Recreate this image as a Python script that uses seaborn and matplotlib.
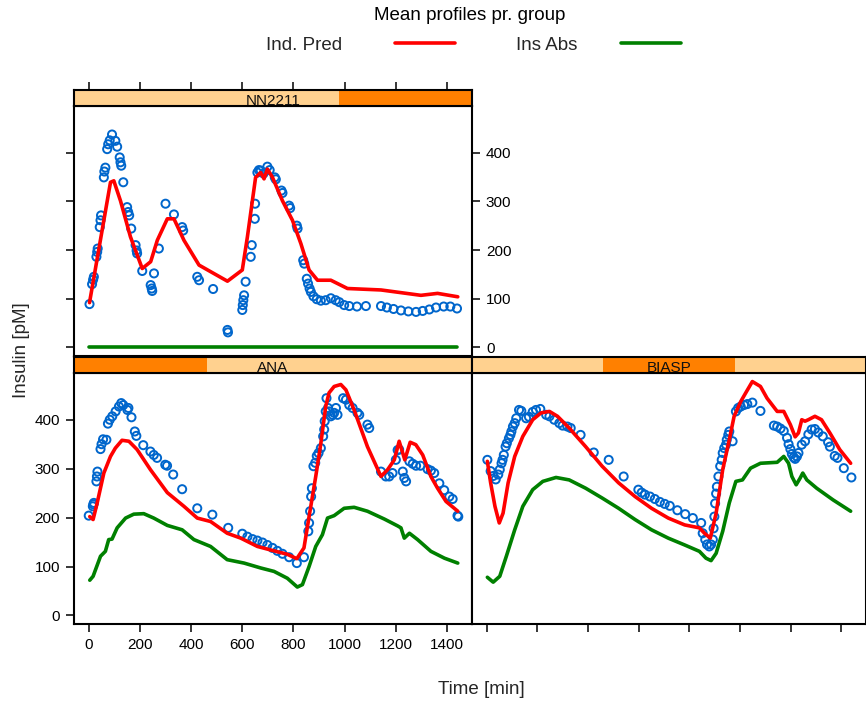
import matplotlib.pyplot as plt
from matplotlib.lines import Line2D
from matplotlib.patches import Rectangle
import seaborn as sns
import pandas as pd

sns.set_theme(style="white")
plt.rcParams['font.family'] = ['Liberation Sans', 'DejaVu Sans']

# ---- data ----
# NN2211
nn_obs_t = [3, 13, 17, 20, 30, 33, 35, 43, 46, 48, 59, 61, 65, 72, 76, 82, 91, 104, 111,
            121, 124, 127, 135, 150, 154, 158, 166, 183, 187, 189, 209, 255, 242, 246, 248,
            274, 300, 333, 365, 369, 424, 431, 486, 542, 544, 600, 602, 604, 607, 613, 633,
            637, 649, 650, 659, 665, 672, 683, 698, 707, 727, 731, 753, 757, 783, 787, 813,
            816, 838, 842, 852, 857, 863, 868, 878, 891, 907, 926, 946, 965, 979, 998, 1018,
            1048, 1083, 1142, 1165, 1191, 1220, 1249, 1279, 1305, 1331, 1357, 1387, 1413, 1439]
nn_obs_y = [89, 130, 139, 145, 186, 196, 203, 247, 261, 271, 349, 361, 369, 407, 417, 425, 437,
            424, 412, 390, 380, 373, 339, 288, 278, 271, 244, 210, 199, 193, 157, 152, 128, 121,
            116, 203, 295, 273, 247, 240, 145, 138, 120, 36, 31, 77, 87, 97, 107, 135, 186, 210,
            264, 295, 359, 364, 363, 357, 371, 364, 349, 345, 322, 317, 291, 286, 250, 244, 179,
            172, 141, 131, 121, 114, 105, 99, 96, 97, 101, 97, 93, 87, 85, 84, 85, 85, 82, 79,
            76, 74, 73, 75, 78, 82, 84, 84, 80]
nn_pred_t = [3, 85, 98, 124, 163, 209, 242, 268, 307, 333, 372, 431, 542, 600, 620, 652, 672,
             685, 698, 718, 757, 796, 829, 861, 894, 946, 1011, 1142, 1298, 1363, 1442]
nn_pred_y = [92, 339, 342, 301, 227, 162, 176, 220, 264, 264, 220, 169, 136, 159, 227, 349, 359,
             346, 366, 349, 301, 261, 213, 159, 138, 138, 121, 118, 107, 111, 104]
nn_abs_t = [0, 360, 720, 1080, 1440]
nn_abs_y = [1, 1, 1, 1, 1]

# ANA
ana_obs_t = [0, 16, 18, 20, 30, 32, 34, 46, 50, 56, 69, 75, 82, 92, 105, 118, 127, 135, 151,
             155, 167, 180, 186, 213, 241, 254, 267, 299, 306, 330, 365, 424, 483, 545, 600,
             620, 640, 659, 679, 698, 718, 737, 757, 783, 813, 841, 858, 861, 865, 869, 872,
             878, 885, 891, 898, 907, 916, 920, 922, 926, 929, 935, 939, 946, 953, 959, 966,
             972, 994, 1005, 1018, 1031, 1050, 1057, 1089, 1096, 1142, 1161, 1174, 1187, 1200,
             1207, 1213, 1227, 1233, 1240, 1253, 1266, 1279, 1296, 1324, 1337, 1350, 1370,
             1389, 1409, 1422, 1441, 1444]
ana_obs_y = [204, 223, 227, 230, 274, 284, 294, 340, 350, 360, 359, 392, 400, 407, 417, 427,
             434, 430, 420, 424, 405, 376, 367, 348, 335, 328, 322, 308, 306, 288, 258, 219,
             206, 179, 167, 161, 156, 153, 149, 144, 138, 132, 126, 119, 107, 119, 172, 189,
             213, 243, 260, 305, 312, 326, 332, 342, 366, 380, 397, 417, 444, 424, 417, 407,
             410, 414, 424, 410, 444, 441, 430, 424, 414, 410, 390, 383, 294, 284, 284, 291,
             318, 338, 339, 294, 281, 274, 315, 310, 306, 306, 299, 296, 291, 270, 256, 243,
             238, 204, 202]
ana_pred_t = [4, 17, 33, 59, 85, 104, 130, 157, 189, 241, 307, 372, 424, 476, 541, 594, 659,
              724, 776, 813, 841, 861, 887, 907, 926, 939, 959, 985, 1005, 1037, 1089, 1142,
              1168, 1194, 1213, 1235, 1256, 1278, 1305, 1337, 1363, 1396, 1442]
ana_pred_y = [202, 196, 230, 291, 325, 342, 358, 356, 339, 298, 251, 223, 199, 192, 168, 158,
              141, 132, 125, 116, 138, 202, 284, 352, 427, 455, 468, 472, 461, 420, 345, 284,
              298, 318, 356, 318, 354, 349, 328, 284, 260, 233, 213]
ana_abs_t = [4, 17, 46, 65, 78, 91, 111, 144, 176, 215, 254, 307, 365, 411, 476, 541, 607, 672,
             724, 776, 815, 835, 861, 887, 913, 933, 959, 998, 1037, 1089, 1155, 1207, 1220,
             1233, 1253, 1285, 1337, 1390, 1442]
ana_abs_y = [72, 80, 121, 131, 155, 156, 179, 199, 207, 208, 199, 184, 175, 155, 141, 114, 107,
             97, 90, 76, 58, 63, 100, 141, 165, 199, 204, 219, 221, 213, 197, 183, 179, 158,
             168, 155, 131, 117, 107]

# BIASP
bi_obs_t = [3, 16, 26, 36, 46, 52, 59, 63, 68, 75, 80, 88, 94, 98, 104, 111, 117, 128, 137,
            156, 167, 182, 195, 212, 235, 248, 267, 287, 300, 319, 332, 371, 423, 482, 541,
            599, 612, 625, 645, 664, 684, 703, 723, 753, 784, 814, 847, 853, 863, 870, 879,
            886, 893, 896, 899, 902, 906, 909, 915, 922, 928, 932, 938, 945, 948, 954, 958,
            971, 984, 993, 1003, 1016, 1029, 1049, 1081, 1134, 1147, 1160, 1173, 1186, 1192,
            1199, 1205, 1212, 1218, 1225, 1231, 1244, 1257, 1270, 1283, 1296, 1309, 1327,
            1348, 1355, 1374, 1385, 1410, 1440]
bi_obs_y = [318, 295, 285, 278, 288, 298, 311, 318, 328, 345, 352, 362, 369, 376, 386, 393,
            403, 420, 418, 403, 406, 416, 420, 422, 410, 407, 400, 393, 388, 386, 383, 369,
            333, 318, 284, 257, 251, 247, 243, 238, 232, 228, 224, 215, 207, 199, 189, 168,
            155, 145, 141, 145, 155, 178, 202, 229, 249, 263, 284, 305, 318, 332, 342, 349,
            359, 369, 376, 356, 417, 424, 427, 430, 432, 435, 418, 388, 386, 382, 377, 363,
            350, 340, 330, 323, 320, 325, 332, 349, 356, 370, 380, 381, 374, 366, 354, 345,
            326, 322, 301, 282]
bi_pred_t = [3, 16, 33, 50, 65, 85, 111, 143, 182, 215, 248, 280, 326, 391, 456, 521, 586,
             651, 717, 782, 840, 860, 883, 906, 932, 958, 977, 1003, 1023, 1049, 1081, 1107,
             1147, 1173, 1199, 1218, 1231, 1244, 1257, 1270, 1296, 1322, 1355, 1394, 1437]
bi_pred_y = [315, 271, 223, 189, 209, 271, 325, 366, 400, 414, 417, 407, 383, 345, 305, 271,
             243, 219, 199, 185, 179, 168, 158, 209, 298, 359, 407, 437, 455, 478, 468, 444,
             417, 417, 390, 365, 373, 400, 397, 400, 407, 400, 373, 339, 311]
bi_abs_t = [3, 26, 52, 78, 111, 143, 182, 222, 274, 326, 391, 456, 521, 586, 651, 717, 782,
            840, 866, 886, 906, 932, 958, 984, 1010, 1042, 1081, 1147, 1173, 1192, 1205, 1222,
            1238, 1248, 1264, 1303, 1368, 1437]
bi_abs_y = [78, 68, 80, 121, 175, 223, 257, 274, 282, 277, 260, 240, 219, 196, 175, 158, 144,
            131, 117, 112, 127, 172, 230, 274, 277, 301, 311, 313, 325, 311, 284, 267, 281,
            291, 277, 260, 236, 213]

groups = ['NN2211', 'ANA', 'BIASP']
level_pos = {'NN2211': 2, 'ANA': 0, 'BIASP': 1}
x_ticks = [0, 200, 400, 600, 800, 1000, 1200, 1400]
y_ticks = [0, 100, 200, 300, 400]

BLUE = '#0066CC'
RED = '#FF0000'
GREEN = '#008000'
STRIP_BG = '#FFD18F'
STRIP_FG = '#FF8000'
XLIM = (-57.6, 1497.6)
YLIM = (-17.5, 495.5)

W, H = 866, 701


def rect(x0, y0, x1, y1):
    return [x0 / W, 1 - y1 / H, (x1 - x0) / W, (y1 - y0) / H]


def draw_panel(fig, box, strip_box, name, obs, pred, ins):
    ax = fig.add_axes(rect(*box))
    obs_df = pd.DataFrame({'time': obs[0], 'insulin': obs[1]})
    sns.scatterplot(data=obs_df, x='time', y='insulin', ax=ax, marker='o', s=34,
                    linewidth=1.4, zorder=2)
    pts = ax.collections[-1]
    pts.set_facecolor('none')
    pts.set_edgecolor(BLUE)
    sns.lineplot(x=pred[0], y=pred[1], ax=ax, color=RED, lw=2.6, estimator=None, zorder=3)
    sns.lineplot(x=ins[0], y=ins[1], ax=ax, color=GREEN, lw=2.6, estimator=None, zorder=3)
    ax.set_xlim(XLIM)
    ax.set_ylim(YLIM)
    ax.set_xlabel('')
    ax.set_ylabel('')
    ax.set_xticks(x_ticks)
    ax.set_yticks(y_ticks)
    for sp in ax.spines.values():
        sp.set_visible(True)
        sp.set_color('black')
        sp.set_linewidth(1.5)
    ax.tick_params(direction='out', length=6, width=1.1, color='black',
                   labelsize=11, labelcolor='black', pad=4)

    # strip on top of the panel
    st = fig.add_axes(rect(*strip_box))
    st.set_xlim(XLIM)
    st.set_ylim(0, 1)
    st.set_facecolor(STRIP_BG)
    k = level_pos[name]
    st.add_patch(Rectangle((k / 3, 0), 1 / 3, 1, transform=st.transAxes,
                           color=STRIP_FG, lw=0))
    st.text(0.5, 0.32, name, transform=st.transAxes, ha='center', va='center',
            fontsize=11, color='#111111', clip_on=True)
    for sp in st.spines.values():
        sp.set_visible(True)
        sp.set_color('black')
        sp.set_linewidth(1.5)
    st.set_yticks([])
    st.set_xticks(x_ticks)
    st.tick_params(axis='x', bottom=False, labelbottom=False, top=False, labeltop=False,
                   direction='out', length=6, width=1.1, color='black')
    return ax, st


fig = plt.figure(figsize=(W / 100, H / 100), dpi=100)

ax_nn, st_nn = draw_panel(fig, (74, 106, 472, 356), (74, 90, 106 + 366, 106), 'NN2211',
                          (nn_obs_t, nn_obs_y), (nn_pred_t, nn_pred_y), (nn_abs_t, nn_abs_y))
ax_ana, st_ana = draw_panel(fig, (74, 373, 472, 624), (74, 357, 472, 373), 'ANA',
                            (ana_obs_t, ana_obs_y), (ana_pred_t, ana_pred_y),
                            (ana_abs_t, ana_abs_y))
ax_bi, st_bi = draw_panel(fig, (472, 373, 866, 624), (472, 357, 866, 373), 'BIASP',
                          (bi_obs_t, bi_obs_y), (bi_pred_t, bi_pred_y), (bi_abs_t, bi_abs_y))

# lattice-style alternating axes
ax_nn.tick_params(bottom=False, labelbottom=False, left=True, labelleft=False,
                  right=True, labelright=True)
st_nn.tick_params(axis='x', top=True)
ax_ana.tick_params(left=True, labelleft=True, bottom=True, labelbottom=True)
ax_bi.tick_params(left=False, labelleft=False, bottom=True, labelbottom=False)

# key at the top
fig.text(470 / W, 1 - 15 / H, 'Mean profiles pr. group', ha='center', va='center',
         fontsize=13.5, color='black')
fig.text(304 / W, 1 - 46 / H, 'Ind. Pred', ha='center', va='center', fontsize=13.5)
fig.text(547 / W, 1 - 46 / H, 'Ins Abs', ha='center', va='center', fontsize=13.5)
fig.add_artist(Line2D([395 / W, 455 / W], [1 - 42.5 / H] * 2, color=RED, lw=2.6))
fig.add_artist(Line2D([621 / W, 681 / W], [1 - 42.5 / H] * 2, color=GREEN, lw=2.6))

fig.text(22 / W, 1 - 350 / H, 'Insulin [pM]', rotation=90, ha='center', va='center',
         fontsize=13.5)
fig.text(481 / W, 1 - 690 / H, 'Time [min]', ha='center', va='center', fontsize=13.5)

fig.savefig('out.png', dpi=100)
